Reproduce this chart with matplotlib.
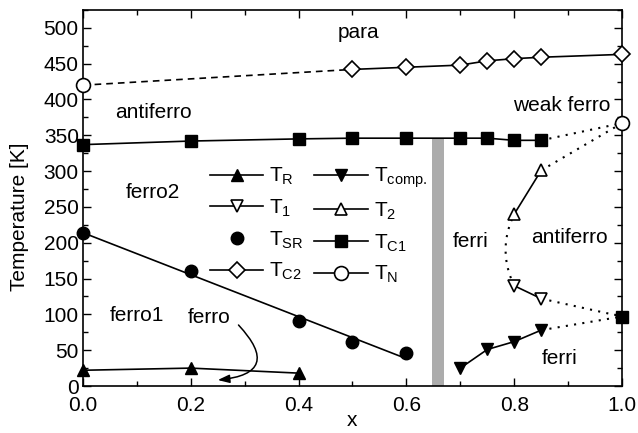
import numpy as np
import matplotlib
matplotlib.use("Agg")
import matplotlib.pyplot as plt
from matplotlib.patches import FancyArrowPatch
from matplotlib.lines import Line2D
from matplotlib.ticker import MultipleLocator

plt.rcParams["font.family"] = ["Liberation Sans", "DejaVu Sans"]
plt.rcParams["mathtext.default"] = "regular"

# Transition temperatures vs composition x
x_R = [0.0, 0.2, 0.4]
T_R = [22, 25, 18]

x_comp = [0.7, 0.75, 0.8, 0.85]
T_comp = [25, 51, 62, 78]

x_1 = [0.8, 0.85]
T_1 = [140, 122]

x_2 = [0.8, 0.85]
T_2 = [240, 301]

x_SR = [0.0, 0.2, 0.4, 0.5, 0.6]
T_SR = [214, 160, 91, 61, 46]

x_C1 = [0.0, 0.2, 0.4, 0.5, 0.6, 0.7, 0.75, 0.8, 0.85]
T_C1 = [337, 342, 345, 346, 346, 346, 346, 343, 343]
x_C1_end = [1.0]
T_C1_end = [97]

x_C2 = [0.5, 0.6, 0.7, 0.75, 0.8, 0.85, 1.0]
T_C2 = [442, 445, 448, 454, 457, 459, 463]

x_N = [0.0, 1.0]
T_N = [420, 367]

fig = plt.figure(figsize=(6.38, 4.33), dpi=100)
ax = fig.add_axes([0.130, 0.1085, 0.845, 0.8685])

lw = 1.2
mew = 1.2
k = "black"

# composition boundary
ax.axvspan(0.648, 0.670, ymin=0, ymax=345 / 525, color="#acacac", lw=0, zorder=1)

# guide lines
ax.plot([x_N[0], x_C2[0]], [T_N[0], T_C2[0]], ls=(0, (4, 3)), color=k, lw=lw, zorder=2)
for xe, ye in [(x_C1[-1], T_C1[-1]), (x_2[-1], T_2[-1])]:
    ax.plot([xe, x_N[1]], [ye, T_N[1]], ls=(0, (1, 3)), color=k, lw=lw + 0.3, zorder=2)
for xe, ye in [(x_1[-1], T_1[-1]), (x_comp[-1], T_comp[-1])]:
    ax.plot([xe, x_C1_end[0]], [ye, T_C1_end[0]], ls=(0, (1, 3)), color=k, lw=lw + 0.3, zorder=2)
# curved guide between T_2 and T_1 at x = 0.8
yy = np.linspace(T_1[0], T_2[0], 40)
mid = 0.5 * (T_1[0] + T_2[0])
half = 0.5 * (T_2[0] - T_1[0])
xx = x_1[0] - 0.016 * (1 - ((yy - mid) / half) ** 2)
ax.plot(xx, yy, ls=(0, (1, 3)), color=k, lw=lw + 0.3, zorder=2)

# linear fit through T_SR
coef = np.polyfit(x_SR, T_SR, 1)
xf = np.array([0.0, 0.6])
ax.plot(xf, np.polyval(coef, xf), color=k, lw=lw, zorder=2)

ax.plot(x_R, T_R, "-^", color=k, mfc=k, ms=9, lw=lw, label="T$_R$", zorder=3)
ax.plot(x_1, T_1, "-v", color=k, mfc="white", ms=9, mew=mew, lw=lw, label="T$_1$", zorder=3)
ax.plot(x_SR, T_SR, "o", color=k, mfc=k, ms=9, lw=lw, label="T$_{SR}$", zorder=3)
ax.plot(x_C2, T_C2, "-D", color=k, mfc="white", ms=8, mew=mew, lw=lw, label="T$_{C2}$", zorder=3)
ax.plot(x_comp, T_comp, "-v", color=k, mfc=k, ms=9, lw=lw, label="T$_{comp.}$", zorder=3)
ax.plot(x_2, T_2, "-^", color=k, mfc="white", ms=9, mew=mew, lw=lw, label="T$_2$", zorder=3)
ax.plot(x_C1, T_C1, "-s", color=k, mfc=k, ms=8, lw=lw, label="T$_{C1}$", zorder=3)
ax.plot(x_C1_end, T_C1_end, "s", color=k, mfc=k, ms=8, zorder=4)
ax.plot(x_N, T_N, "o", color=k, mfc="white", ms=10, mew=mew, label="T$_N$", zorder=4)

# legend: the T_N entry shows a line like the others
handles, labels = ax.get_legend_handles_labels()
handles[-1] = Line2D([], [], ls="-", color=k, lw=lw, marker="o", mfc="white", ms=10, mew=mew)
ax.legend(handles, labels, ncol=2, loc="upper left", bbox_to_anchor=(0.228, 0.597),
          frameon=False, fontsize=15, handlelength=2.55, handletextpad=0.3,
          labelspacing=0.5, columnspacing=0.5, borderpad=0.2, borderaxespad=0)

# markers on the frame are drawn in full
for ln in ax.lines:
    ln.set_clip_on(False)

ax.set_xlim(0, 1.0)
ax.set_ylim(0, 525)
ax.xaxis.set_major_locator(MultipleLocator(0.2))
ax.xaxis.set_minor_locator(MultipleLocator(0.1))
ax.yaxis.set_major_locator(MultipleLocator(50))
ax.yaxis.set_minor_locator(MultipleLocator(25))
ax.tick_params(which="both", direction="in", top=True, right=True, labelsize=15, width=1.0)
ax.tick_params(which="major", length=6, pad=3)
ax.tick_params(which="minor", length=3.5)
ax.tick_params(axis="x", which="major", pad=7)
for s in ax.spines.values():
    s.set_linewidth(1.2)
ax.set_xticks([0.0, 0.2, 0.4, 0.6, 0.8, 1.0])
ax.set_xticklabels(["0.0", "0.2", "0.4", "0.6", "0.8", "1.0"])

ax.set_xlabel("x", fontsize=15, va="center")
ax.xaxis.set_label_coords(0.5, -0.093)
ax.set_ylabel("Temperature [K]", fontsize=15, labelpad=4)
ax.yaxis.set_label_coords(-0.1, 0.45)

ts = 15
ax.text(0.512, 494, "para", fontsize=ts, ha="center", va="center")
ax.text(0.13, 382, "antiferro", fontsize=ts, ha="center", va="center")
ax.text(0.13, 270, "ferro2", fontsize=ts, ha="center", va="center")
ax.text(0.10, 98, "ferro1", fontsize=ts, ha="center", va="center")
ax.text(0.234, 96, "ferro", fontsize=ts, ha="center", va="center")
ax.text(0.72, 202, "ferri", fontsize=ts, ha="center", va="center")
ax.text(0.903, 207, "antiferro", fontsize=ts, ha="center", va="center")
ax.text(0.885, 39, "ferri", fontsize=ts, ha="center", va="center")
ax.text(0.888, 392, "weak ferro", fontsize=ts, ha="center", va="center")

arr = FancyArrowPatch((0.285, 88), (0.245, 8), connectionstyle="arc3,rad=-1.05",
                      arrowstyle="-|>,head_length=7,head_width=2.5", color=k, lw=1.1,
                      zorder=3)
ax.add_patch(arr)

fig.savefig("out.png", dpi=100)
